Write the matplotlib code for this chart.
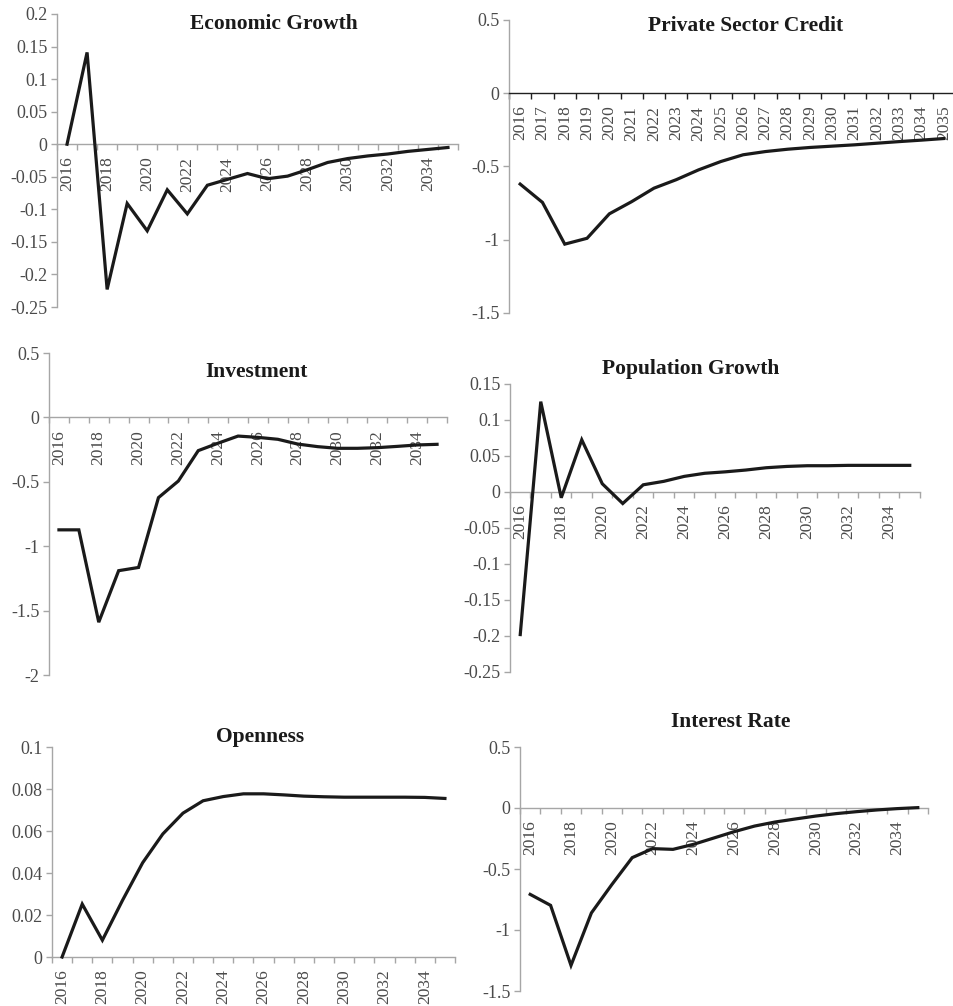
"""Six-panel impulse response charts (Excel look)."""
import matplotlib

matplotlib.use("Agg")
import matplotlib.pyplot as plt
import numpy as np

YEARS = list(range(2016, 2036))

ECONOMIC_GROWTH = [0.0, 0.141, -0.223, -0.091, -0.133, -0.070, -0.107, -0.063, -0.054, -0.045,
                   -0.053, -0.049, -0.039, -0.028, -0.022, -0.018, -0.015, -0.011, -0.008, -0.005]
PRIVATE_CREDIT = [-0.62, -0.745, -1.03, -0.99, -0.823, -0.74, -0.648, -0.59, -0.523, -0.466,
                  -0.42, -0.398, -0.382, -0.37, -0.361, -0.352, -0.341, -0.33, -0.32, -0.309]
INVESTMENT = [-0.873, -0.873, -1.59, -1.19, -1.165, -0.623, -0.494, -0.258, -0.2, -0.145,
              -0.155, -0.17, -0.207, -0.227, -0.24, -0.24, -0.235, -0.225, -0.214, -0.209]
POPULATION_GROWTH = [-0.198, 0.1255, -0.008, 0.0725, 0.0115, -0.016, 0.010, 0.0148, 0.0217, 0.026,
                     0.028, 0.0305, 0.0337, 0.0355, 0.0365, 0.0365, 0.037, 0.037, 0.037, 0.037]
OPENNESS = [0.0, 0.0252, 0.008, 0.027, 0.0449, 0.0586, 0.0685, 0.0744, 0.0764, 0.0777,
            0.0777, 0.0772, 0.0766, 0.0763, 0.0761, 0.0761, 0.0761, 0.0761, 0.076, 0.0755]
INTEREST_RATE = [-0.708, -0.798, -1.29, -0.86, -0.628, -0.407, -0.333, -0.339, -0.298, -0.246,
                 -0.194, -0.148, -0.115, -0.09, -0.066, -0.046, -0.03, -0.016, -0.005, 0.003]

W, H = 954, 1006
AXIS_GRAY = "#a6a6a6"
LABEL_COLOR = "#4a4a4a"

plt.rcParams["font.family"] = ["Liberation Serif", "DejaVu Serif"]

# title, values, (left, right, top, bottom) in px, ylim, ystep, every-year labels, x-axis colour, title pos
PANELS = [
    ("Economic Growth", ECONOMIC_GROWTH, (57, 458, 14, 307), (-0.25, 0.2), 0.05, False, AXIS_GRAY, (274, 24)),
    ("Private Sector Credit", PRIVATE_CREDIT, (509, 955, 20, 313), (-1.5, 0.5), 0.5, True, "#202020", (746, 26)),
    ("Investment", INVESTMENT, (49, 447, 353, 675), (-2.0, 0.5), 0.5, False, AXIS_GRAY, (256, 372)),
    ("Population Growth", POPULATION_GROWTH, (510, 920, 384, 672), (-0.25, 0.15), 0.05, False, AXIS_GRAY, (691, 369)),
    ("Openness", OPENNESS, (52, 455, 747, 957), (0.0, 0.1), 0.02, False, AXIS_GRAY, (260, 737)),
    ("Interest Rate", INTEREST_RATE, (520, 928, 747, 991), (-1.5, 0.5), 0.5, False, AXIS_GRAY, (731, 722)),
]


def fmt(v: float) -> str:
    s = f"{v:.2f}".rstrip("0").rstrip(".")
    return "0" if s in ("-0", "0") else s


fig = plt.figure(figsize=(W / 100, H / 100), dpi=100)

for title, values, (l, r, t, b), ylim, ystep, every_year, xcolor, (tx, ty) in PANELS:
    ax = fig.add_axes([l / W, 1 - b / H, (r - l) / W, (b - t) / H])
    x = np.arange(len(YEARS))
    ax.plot(x, values, color="#1a1a1a", linewidth=2.3, solid_joinstyle="miter", zorder=3, clip_on=False)
    ax.set_xlim(-0.5, len(YEARS) - 0.5)
    ax.set_ylim(*ylim)

    for side in ("top", "right"):
        ax.spines[side].set_visible(False)
    ax.spines["left"].set_color(AXIS_GRAY)
    ax.spines["left"].set_linewidth(1.0)
    ax.spines["bottom"].set_position(("data", 0))
    ax.spines["bottom"].set_color(xcolor)
    ax.spines["bottom"].set_linewidth(1.0)

    yt = np.arange(ylim[0], ylim[1] + ystep / 2, ystep)
    ax.set_yticks(yt, [fmt(v) for v in yt])
    ax.tick_params(axis="y", direction="out", length=4, width=1.0, color=AXIS_GRAY,
                   labelsize=13, labelcolor=LABEL_COLOR, pad=3)

    step = 1 if every_year else 2
    ax.set_xticks(x[::step], [str(y) for y in YEARS[::step]], rotation=90)
    ax.set_xticks(np.arange(-0.5, len(YEARS)), minor=True)
    ax.tick_params(axis="x", which="major", length=0, labelsize=12.5, labelcolor=LABEL_COLOR, pad=9)
    ax.tick_params(axis="x", which="minor", direction="out", length=4, width=1.0, color=xcolor)
    ax.set_facecolor("none")

    fig.text(tx / W, 1 - ty / H, title, ha="center", va="center", fontsize=15.5,
             fontweight="bold", color="#1a1a1a")

fig.savefig("out.png", dpi=100)
